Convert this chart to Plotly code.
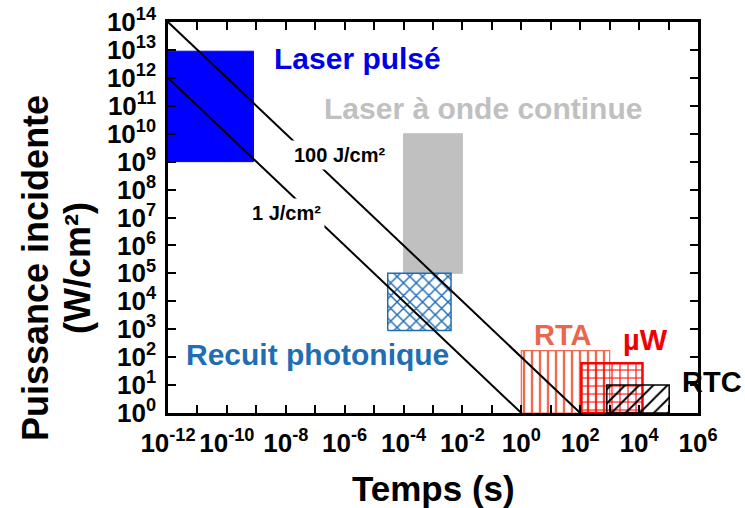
import plotly.graph_objects as go

# ---------------- data ----------------
region_names = ["Laser pulsé", "Laser à onde continue", "Recuit photonique", "RTA", "µW", "RTC"]
t_min = [1e-12, 1.0e-4, 2.9e-5, 1.0e0, 1.1e2, 8.0e2]
t_max = [8.0e-10, 1.0e-2, 4.1e-3, 1.0e3, 1.3e4, 1.05e5]
p_min = [1e9, 1e5, 9e2, 1.0, 1.0, 1.0]
p_max = [9e12, 1e10, 1e5, 1.7e2, 6e1, 1e1]

energies = [1, 100]          # J/cm²
energy_labels = ["1 J/cm²", "100 J/cm²"]

x_exponents = list(range(-12, 7))
y_exponents = list(range(0, 15))

# ---------------- styles ----------------
FONT = "Liberation Sans"
W, H = 745, 508
ML, MR, MT, MB = 168, 47, 22, 95
pw, ph = W - ML - MR, H - MT - MB

styles = [
    dict(fill="#0000FF", line="#0000FF", lw=1, pattern=None, text="#0000E6"),
    dict(fill="#C0C0C0", line="#C0C0C0", lw=1, pattern=None, text="#C0C0C0"),
    dict(fill=None, line="#1F6DB4", lw=1.5, pattern=dict(shape="x", size=9, solidity=0.3), text="#1F6DB4"),
    dict(fill=None, line="#EE6A50", lw=1.2, pattern=dict(shape="|", size=8, solidity=0.3), text="#E8674E"),
    dict(fill=None, line="#FF0000", lw=2.5, pattern=dict(shape="+", size=8, solidity=0.25), text="#F00000"),
    dict(fill=None, line="#000000", lw=1.5, pattern=dict(shape="/", size=10, solidity=0.2), text="#000000"),
]
# label centres in pixels of the 745x508 picture, with font size
label_px = [(357, 59, 30), (483, 108, 30), (317, 354, 30),
            (563, 335, 29), (645, 340, 29), (712, 382, 29)]


def px_to_paper(px, py):
    return (px - ML) / pw, (H - MB - py) / ph


fig = go.Figure()

for i, name in enumerate(region_names):
    s = styles[i]
    xs = [t_min[i], t_max[i], t_max[i], t_min[i], t_min[i]]
    ys = [p_min[i], p_min[i], p_max[i], p_max[i], p_min[i]]
    kw = dict(x=xs, y=ys, mode="lines", fill="toself",
              line=dict(color=s["line"], width=s["lw"]),
              hoverinfo="skip", showlegend=False, name=name)
    if s["pattern"] is None:
        kw["fillcolor"] = s["fill"]
    else:
        kw["fillcolor"] = "rgba(0,0,0,0)"
        kw["fillpattern"] = dict(shape=s["pattern"]["shape"], fgcolor=s["line"],
                                 bgcolor="rgba(0,0,0,0)", size=s["pattern"]["size"],
                                 solidity=s["pattern"]["solidity"], fillmode="replace")
    fig.add_trace(go.Scatter(**kw))

# constant-energy lines P = E / t
for E in energies:
    fig.add_trace(go.Scatter(x=[1e-12, E], y=[E / 1e-12, 1.0], mode="lines",
                             line=dict(color="black", width=2),
                             hoverinfo="skip", showlegend=False))

annotations = []
for i, name in enumerate(region_names):
    px, py, fs = label_px[i]
    ax, ay = px_to_paper(px, py)
    annotations.append(dict(x=ax, y=ay, xref="paper", yref="paper", text=f"<b>{name}</b>",
                            showarrow=False, font=dict(family=FONT, size=fs, color=styles[i]["text"]),
                            xanchor="center", yanchor="middle"))

energy_px = [(286, 213), (340, 155)]
for (px, py), lab in zip(energy_px, energy_labels):
    ax, ay = px_to_paper(px, py)
    annotations.append(dict(x=ax, y=ay, xref="paper", yref="paper", text=f"<b>{lab}</b>",
                            showarrow=False, font=dict(family=FONT, size=20, color="black"),
                            bgcolor="white", borderpad=3, xanchor="center", yanchor="middle"))

# axis titles
for txt, (px, py), ang, fs in [("Temps (s)", (433, 488), 0, 35),
                               ("Puissance incidente", (35, 268), -90, 36),
                               ("(W/cm²)", (77, 268), -90, 36)]:
    ax, ay = px_to_paper(px, py)
    annotations.append(dict(x=ax, y=ay, xref="paper", yref="paper", text=f"<b>{txt}</b>",
                            textangle=ang, showarrow=False, xanchor="center", yanchor="middle",
                            font=dict(family=FONT, size=fs, color="black")))

x_tickvals = [10.0 ** e for e in x_exponents]
x_ticktext = [f"<b>10<sup>{e}</sup></b>" if e % 2 == 0 else "" for e in x_exponents]
y_tickvals = [10.0 ** e for e in y_exponents]
y_ticktext = [f"<b>10<sup>{e}</sup></b>" for e in y_exponents]

axis_common = dict(showline=True, linecolor="black", linewidth=2.5, mirror="ticks",
                   ticks="inside", ticklen=8, tickwidth=2, tickcolor="black",
                   showgrid=False, zeroline=False, automargin=False,
                   tickfont=dict(family=FONT, size=26, color="black"))

fig.update_layout(
    width=W, height=H,
    margin=dict(l=ML, r=MR, t=MT, b=MB, autoexpand=False),
    paper_bgcolor="white", plot_bgcolor="white",
    font=dict(family=FONT, color="black"),
    xaxis=dict(type="log", range=[-12, 6], tickmode="array", tickvals=x_tickvals,
               ticktext=x_ticktext, ticklabelstandoff=5, **axis_common),
    yaxis=dict(type="log", range=[0, 14], tickmode="array", tickvals=y_tickvals,
               ticktext=y_ticktext, ticklabelstandoff=4, **axis_common),
    annotations=annotations,
    showlegend=False,
)

fig.write_html("out.html")
